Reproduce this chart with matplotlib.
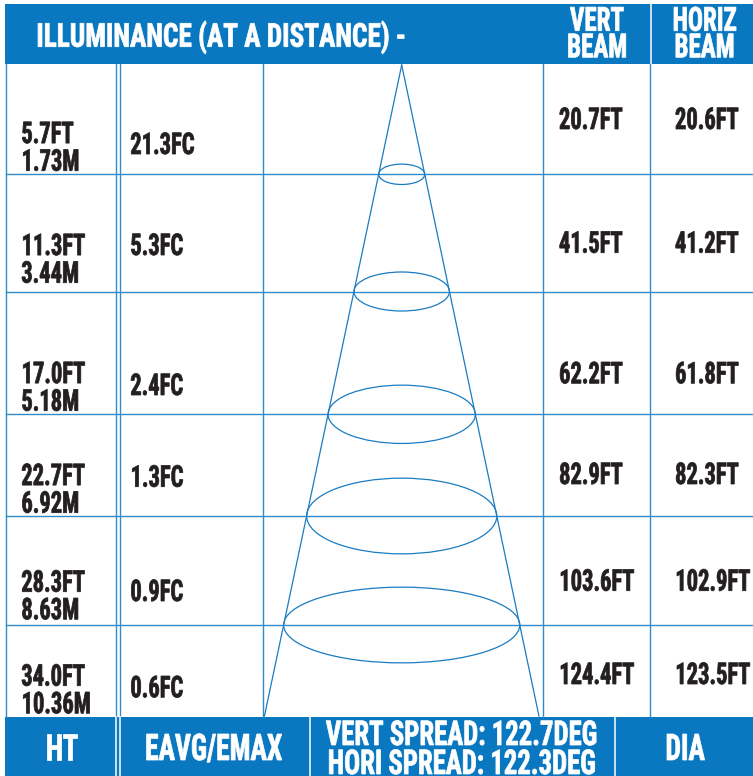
import matplotlib
matplotlib.use("Agg")
import matplotlib.pyplot as plt
from matplotlib.patches import Rectangle, Ellipse
from matplotlib.patheffects import AbstractPathEffect
from matplotlib.transforms import Affine2D, Bbox
from matplotlib.textpath import TextPath
from matplotlib.text import Text
from matplotlib.font_manager import FontProperties, findfont

# ---------------- data ----------------
title = "ILLUMINANCE (AT A DISTANCE) -"
ht_ft = [5.7, 11.3, 17.0, 22.7, 28.3, 34.0]
ht_m = [1.73, 3.44, 5.18, 6.92, 8.63, 10.36]
eavg_fc = [21.3, 5.3, 2.4, 1.3, 0.9, 0.6]
vert_beam_ft = [20.7, 41.5, 62.2, 82.9, 103.6, 124.4]
horiz_beam_ft = [20.6, 41.2, 61.8, 82.3, 102.9, 123.5]
vert_spread_deg = 122.7
hori_spread_deg = 122.3
header_labels = ["VERT\nBEAM", "HORIZ\nBEAM"]
footer_labels = ["HT", "EAVG/EMAX", "DIA"]

# ---------------- layout (pixels) ----------------
W, H = 753, 776
row_edges = [64, 174.3, 291.5, 414.3, 516, 625, 716.5]
ht_base2 = [170.7, 282.7, 410.7, 512.7, 619.3, 713.3]
fc_base = [154, 255, 395, 486.7, 601, 697.3]
beam_base = [129, 252.7, 383.3, 484, 590.7, 684]
ellipse_h = [20.4, 39, 58.3, 75.7, 75.7]

BLUE = "#0a78c1"
LINE = "#2f8bcb"
CONE = "#1a7cc2"
INK = "#231f20"

# ---------------- font handling ----------------
def pick_family():
    for fam in ["Liberation Sans Narrow", "Roboto Condensed", "Liberation Sans", "DejaVu Sans"]:
        try:
            findfont(FontProperties(family=fam, weight="bold"), fallback_to_default=False)
            return fam
        except Exception:
            continue
    return "DejaVu Sans"

FAM = pick_family()
FP = FontProperties(family=FAM, weight="bold")
CAP_EM = TextPath((0, 0), "H", size=1, prop=FP).get_extents().height


def em_width(s):
    return TextPath((0, 0), s, size=1, prop=FP).get_extents().width


SX = min(1.0, 62.4 / (em_width("20.7FT") * 21.3 / CAP_EM))


class Condense(AbstractPathEffect):
    """Draws the glyph outline squeezed horizontally, slightly emboldened."""

    def __init__(self, sx, mode="left", lw=0.55):
        super().__init__()
        self.sx = sx
        self.mode = mode
        self.lw = lw

    def draw_path(self, renderer, gc, tpath, affine, rgbFace=None):
        ext = tpath.get_extents()
        if self.mode == "center":
            cx = (ext.x0 + ext.x1) / 2
        elif self.mode == "right":
            cx = ext.x1
        else:
            cx = ext.x0
        t = Affine2D().translate(-cx, 0).scale(self.sx, 1).translate(cx, 0) + affine
        gc0 = renderer.new_gc()
        gc0.copy_properties(gc)
        gc0.set_linewidth(self.lw)
        gc0.set_foreground(rgbFace)
        gc0.set_joinstyle("miter")
        renderer.draw_path(gc0, tpath, t, rgbFace)
        gc0.restore()


class CText(Text):
    """Text whose reported extent matches its condensed drawing."""

    def __init__(self, *args, sx=1.0, **kw):
        super().__init__(*args, **kw)
        self._sx = sx

    def get_window_extent(self, renderer=None, dpi=None):
        bb = super().get_window_extent(renderer, dpi)
        ha = self.get_horizontalalignment()
        w = bb.width * self._sx
        if ha == "center":
            c = (bb.x0 + bb.x1) / 2
            x0, x1 = c - w / 2, c + w / 2
        elif ha == "right":
            x0, x1 = bb.x1 - w, bb.x1
        else:
            x0, x1 = bb.x0, bb.x0 + w
        return Bbox.from_extents(x0, bb.y0, x1, bb.y1)


fig = plt.figure(figsize=(W / 100, H / 100), dpi=100)
ax = fig.add_axes([0, 0, 1, 1])
ax.set_xlim(0, W)
ax.set_ylim(H, 0)
ax.axis("off")
RENDERER = fig.canvas.get_renderer()


def txt(x, y, s, cap_px, color=INK, mode="left", width_px=None, width_ref=None, pitch_px=None):
    fs = cap_px / CAP_EM * 72 / 100
    sx = SX
    if width_px is not None:
        ref = width_ref if width_ref is not None else s
        sx = width_px / (em_width(ref) * cap_px / CAP_EM)
    ls = 1.2
    if pitch_px is not None:
        p = FP.copy()
        p.set_size(fs)
        _, lh, ld = RENDERER.get_text_width_height_descent("lp", p, ismath=False)
        ls = (pitch_px - ld) / (lh - ld)
    t = CText(x, y, s, fontproperties=FP, fontsize=fs, ha=mode, va="baseline",
              color=color, multialignment=mode, linespacing=ls, sx=sx)
    t.set_path_effects([Condense(sx, mode)])
    ax.add_artist(t)
    return t


# header and footer bands
ax.add_patch(Rectangle((5, 4), W - 5, 59.5, color=BLUE, lw=0))
ax.add_patch(Rectangle((5, row_edges[-1]), W - 5, H - row_edges[-1], color=BLUE, lw=0))
ax.plot([650.7, 650.7], [4, 63.5], color="white", lw=1.1)

# table grid
top, bot = row_edges[0], row_edges[-1]
for x in [6, 116.4, 120, 262.7, 543, 650.5]:
    ax.plot([x, x], [top, bot], color=LINE, lw=1.0)
for y in row_edges[1:-1]:
    ax.plot([6, W], [y, y], color=LINE, lw=1.0)

# footer dividers
for x in [116.4, 120, 310, 614.7]:
    ax.plot([x, x], [bot, H], color="white", lw=1.1)

# cone
apex_x, apex_y = 401.7, 65
base_y, base_half = 716, 137.25
ax.plot([apex_x, apex_x - base_half], [apex_y, base_y], color=CONE, lw=0.9)
ax.plot([apex_x, apex_x + base_half], [apex_y, base_y], color=CONE, lw=0.9)
for y, eh in zip(row_edges[1:-1], ellipse_h):
    ew = 2 * base_half * (y - apex_y) / (base_y - apex_y)
    ax.add_patch(Ellipse((apex_x, y), ew, eh, fill=False, edgecolor=CONE, lw=0.9))

# header text
txt(36, 46.7, title, 23.4, "white", width_px=366)
txt(597, 57.3, header_labels[0], 23.6, "white", "center", pitch_px=26.6)
txt(704.4, 57.3, header_labels[1], 23.6, "white", "center", pitch_px=26.6)

# body text
for i in range(6):
    txt(21, ht_base2[i], f"{ht_ft[i]:.1f}FT\n{ht_m[i]:.2f}M", 21.3, pitch_px=27.6)
    txt(130, fc_base[i], f"{eavg_fc[i]:.1f}FC", 21.3)
    txt(558.7, beam_base[i], f"{vert_beam_ft[i]:.1f}FT", 21.3)
    txt(674.7, beam_base[i], f"{horiz_beam_ft[i]:.1f}FT", 21.3)

# footer text
txt(61.5, 760, footer_labels[0], 26, "white", "center")
txt(213.7, 760, footer_labels[1], 26, "white", "center")
txt(685, 760, footer_labels[2], 26, "white", "center")
spread_l1 = f"VERT SPREAD: {vert_spread_deg:.1f}DEG"
spread_l2 = f"HORI SPREAD: {hori_spread_deg:.1f}DEG"
txt(461.5, 774, spread_l1 + "\n" + spread_l2, 24.3, "white", "center",
    width_px=270, width_ref=spread_l1, pitch_px=29)

fig.savefig("out.png", dpi=100)
